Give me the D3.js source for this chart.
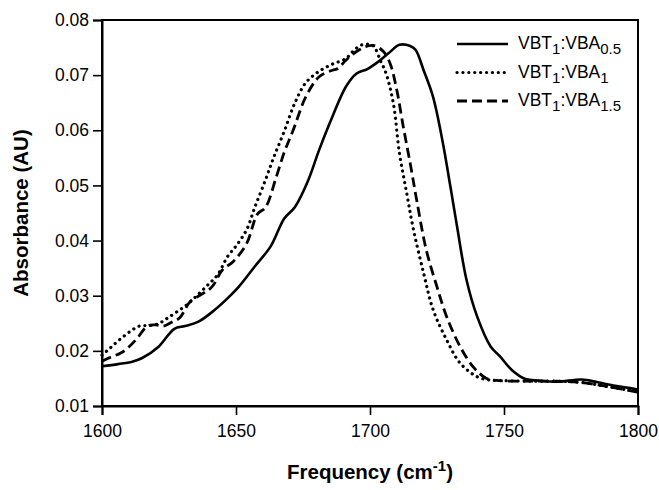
<!DOCTYPE html>
<html>
<head>
<meta charset="utf-8">
<script src="https://cdn.jsdelivr.net/npm/d3@7.9.0/dist/d3.min.js"></script>
<style>
  body { margin: 0; background: #fff; }
  svg { font-family: "Liberation Sans", Arial, sans-serif; }
</style>
</head>
<body>
<div id="chart"></div>
<script>
// spectra
const freqA = [1600, 1606, 1611, 1615, 1621, 1627, 1631, 1636, 1642, 1647, 1651, 1657, 1663, 1668, 1672, 1677, 1681, 1686, 1691, 1695, 1699, 1703, 1707, 1711, 1715, 1717, 1720, 1723.5, 1727, 1730, 1732.5, 1736, 1740, 1745, 1748.5, 1753, 1758, 1763, 1770, 1779, 1785, 1790, 1795, 1800];
const absA = [0.0172, 0.0176, 0.0180, 0.0187, 0.0207, 0.0240, 0.0245, 0.0253, 0.0274, 0.0296, 0.0316, 0.0353, 0.0390, 0.0440, 0.0461, 0.0510, 0.0564, 0.0625, 0.0679, 0.0703, 0.0711, 0.0724, 0.0740, 0.0755, 0.0753, 0.0746, 0.0709, 0.0661, 0.0582, 0.0498, 0.0425, 0.0329, 0.0262, 0.0208, 0.0190, 0.0165, 0.0149, 0.0146, 0.0144, 0.0148, 0.0143, 0.0138, 0.0134, 0.0130];

const freqB = [1600, 1603, 1607, 1611, 1614, 1618, 1621, 1624, 1628, 1632, 1636, 1640, 1643, 1647, 1650, 1654, 1657, 1661, 1664, 1668, 1672, 1676, 1681, 1686, 1691, 1694, 1697, 1701, 1704, 1706, 1708.7, 1711, 1713.7, 1716, 1720, 1723.6, 1728.6, 1733.6, 1740, 1745, 1750, 1760, 1770, 1780, 1790, 1800];
const absB = [0.0192, 0.0205, 0.0222, 0.0237, 0.0245, 0.0246, 0.0249, 0.0258, 0.0271, 0.0285, 0.0303, 0.0322, 0.0337, 0.0372, 0.0390, 0.0420, 0.0460, 0.0510, 0.0550, 0.0598, 0.0650, 0.0686, 0.0707, 0.0720, 0.0730, 0.0745, 0.0755, 0.0754, 0.0725, 0.0703, 0.0649, 0.0558, 0.0486, 0.0425, 0.0341, 0.0274, 0.0220, 0.0178, 0.0153, 0.0147, 0.0146, 0.0145, 0.0145, 0.0142, 0.0134, 0.0126];

const freqC = [1600, 1603, 1607, 1610, 1613, 1617, 1620, 1623, 1626, 1629, 1633, 1637, 1641, 1645, 1649, 1654, 1658, 1661, 1665, 1668, 1671.4, 1676, 1681, 1686, 1688, 1691, 1696, 1701, 1705, 1707.5, 1710, 1712.4, 1715, 1717.4, 1721, 1725, 1728.6, 1733.6, 1738.5, 1743.5, 1748.5, 1760, 1770, 1780, 1790, 1800];
const absC = [0.0181, 0.0188, 0.0196, 0.0207, 0.0222, 0.0245, 0.0247, 0.0245, 0.0252, 0.0260, 0.0290, 0.0302, 0.0316, 0.0347, 0.0362, 0.0395, 0.0448, 0.0460, 0.0515, 0.0560, 0.0601, 0.0660, 0.0697, 0.0709, 0.0712, 0.0727, 0.0746, 0.0754, 0.0743, 0.0721, 0.0673, 0.0607, 0.0540, 0.0474, 0.0383, 0.0316, 0.0262, 0.0208, 0.0171, 0.0150, 0.0146, 0.0145, 0.0145, 0.0142, 0.0134, 0.0125];

const seriesSub = ["0.5", "1", "1.5"];
const xTicks = [1600, 1650, 1700, 1750, 1800];
const yTicks = [0.01, 0.02, 0.03, 0.04, 0.05, 0.06, 0.07, 0.08];

const width = 659, height = 490;
const margin = { top: 20, right: 21, bottom: 84, left: 102 };

const svg = d3.select("#chart").append("svg")
  .attr("width", width)
  .attr("height", height);

const x = d3.scaleLinear().domain([1600, 1800]).range([margin.left, width - margin.right]);
const y = d3.scaleLinear().domain([0.01, 0.08]).range([height - margin.bottom, margin.top]);

const styles = [
  { dash: null, cap: "butt", w: 2.6 },
  { dash: "0.1,5.8", cap: "round", w: 3.2 },
  { dash: "10,5", cap: "butt", w: 2.8 }
];

const series = [
  d3.zip(freqA, absA),
  d3.zip(freqB, absB),
  d3.zip(freqC, absC)
];

const line = d3.line()
  .x(d => x(d[0]))
  .y(d => y(d[1]))
  .curve(d3.curveCatmullRom.alpha(0.5));

svg.append("g")
  .selectAll("path")
  .data(series)
  .enter().append("path")
  .attr("d", line)
  .attr("fill", "none")
  .attr("stroke", "#000")
  .attr("stroke-width", (d, i) => styles[i].w)
  .attr("stroke-linecap", (d, i) => styles[i].cap)
  .attr("stroke-dasharray", (d, i) => styles[i].dash);

// frame
svg.append("rect")
  .attr("x", margin.left)
  .attr("y", margin.top)
  .attr("width", width - margin.left - margin.right)
  .attr("height", height - margin.top - margin.bottom)
  .attr("fill", "none")
  .attr("stroke", "#000")
  .attr("stroke-width", 2);

const xAxis = svg.append("g")
  .attr("transform", `translate(0,${height - margin.bottom})`)
  .call(d3.axisBottom(x).tickValues(xTicks).tickSize(9).tickPadding(10).tickFormat(d3.format("d")));
const yAxis = svg.append("g")
  .attr("transform", `translate(${margin.left},0)`)
  .call(d3.axisLeft(y).tickValues(yTicks).tickSize(9).tickPadding(4).tickFormat(d3.format(".2f")));

[xAxis, yAxis].forEach(g => {
  g.select(".domain").attr("stroke-width", 2);
  g.selectAll(".tick line").attr("stroke-width", 1.6);
  g.selectAll("text").attr("font-size", 17.5).attr("fill", "#000")
    .attr("font-family", "'Liberation Sans', Arial, sans-serif");
});

// axis titles
const xt = svg.append("text")
  .attr("x", (margin.left + width - margin.right) / 2)
  .attr("y", 479)
  .attr("text-anchor", "middle")
  .attr("font-size", 20.5)
  .attr("font-weight", "bold");
xt.append("tspan").text("Frequency (cm");
xt.append("tspan").attr("dy", -8).attr("font-size", 15).text("-1");
xt.append("tspan").attr("dy", 8).text(")");

svg.append("text")
  .attr("transform", `translate(28,${(margin.top + height - margin.bottom) / 2}) rotate(-90)`)
  .attr("text-anchor", "middle")
  .attr("font-size", 20.5)
  .attr("font-weight", "bold")
  .text("Absorbance (AU)");

// legend
const legend = svg.append("g");
seriesSub.forEach((s, i) => {
  const ly = 44 + i * 28.5;
  legend.append("line")
    .attr("x1", 457).attr("x2", 508)
    .attr("y1", ly).attr("y2", ly)
    .attr("stroke", "#000")
    .attr("stroke-width", styles[i].w)
    .attr("stroke-linecap", styles[i].cap)
    .attr("stroke-dasharray", styles[i].dash);
  const t = legend.append("text")
    .attr("x", 518).attr("y", ly + 5)
    .attr("font-size", 17.5);
  t.append("tspan").text("VBT");
  t.append("tspan").attr("dy", 5).attr("font-size", 15).text("1");
  t.append("tspan").attr("dy", -5).text(":VBA");
  t.append("tspan").attr("dy", 5).attr("font-size", 15).text(s);
});
</script>
</body>
</html>
